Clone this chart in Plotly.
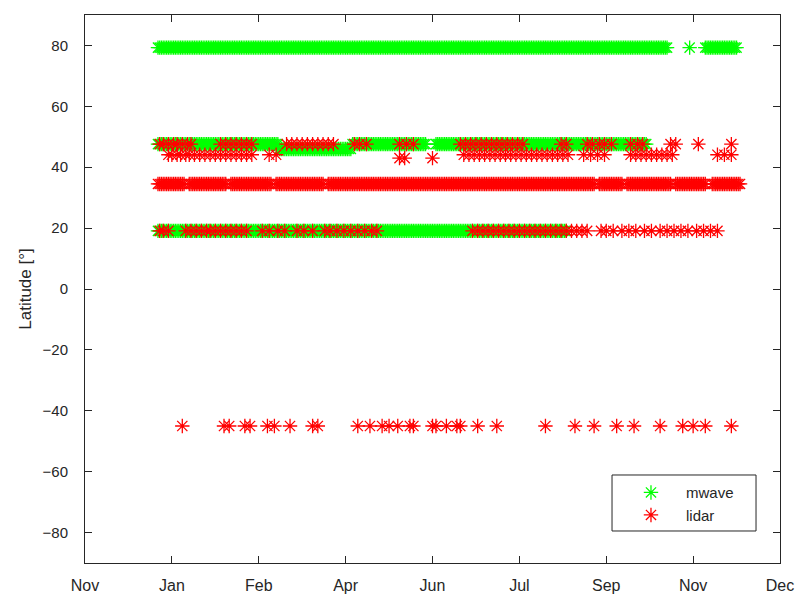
import pandas as pd
import plotly.graph_objects as go

# Observation year; days below are day-of-year in 2016
BASE = pd.Timestamp("2016-01-01")

# Axis window and labels for the date ticks (one tick every 50 days)
AXIS_START = pd.Timestamp("2015-11-20")
TICK_STEP_DAYS = 50
tick_labels = ["Nov", "Jan", "Feb", "Apr", "Jun", "Jul", "Sep", "Nov", "Dec"]
lat_ticks = [-80, -60, -40, -20, 0, 20, 40, 60, 80]

# Station latitudes (deg)
LAT_ARCTIC = 79.3
LAT_MID_N = 47.6
LAT_MID_N2 = 46.0
LAT_MID_S = 44.1
LAT_MID_S2 = 43.0
LAT_SUBTROP = 34.5
LAT_TROP = 19.1
LAT_SOUTH = -45.0

# Microwave radiometers: continuous daily records, (first_day, last_day)
mwave_arctic_runs = [(1, 294), (307, 307), (316, 334)]
mwave_mid_runs = [(1, 70), (113, 155), (161, 282)]
mwave_mid2_runs = [(71, 112)]
mwave_trop_runs = [(1, 236)]

# Lidars
lidar_subtrop_runs = [(1, 16), (19, 40), (43, 66), (69, 96), (99, 252),
                      (255, 268), (271, 296), (299, 316), (320, 336)]
lidar_mid_days = [2, 4, 7, 10, 12, 15, 18, 20,
                  37, 40, 43, 46, 49, 52, 55,
                  75, 78, 81, 84, 87, 90, 93, 96, 99, 102,
                  114, 117, 121, 140, 144, 148,
                  175, 178, 181, 184, 187, 190, 193, 196, 199, 202, 205, 208, 211,
                  233, 236, 248, 251, 255, 258, 262,
                  273, 277, 280, 296, 299, 312, 331]
lidar_mid_s_days = [7, 9, 12, 14, 17, 19, 22, 25, 28, 31, 34, 37, 40, 43, 46, 49, 52, 55,
                    65, 69,
                    177, 180, 183, 186, 189, 192, 195, 198, 201, 204, 207, 210, 213,
                    216, 219, 222, 225, 228, 231, 234, 237,
                    246, 250, 254, 258,
                    273, 276, 279, 282, 285, 288, 291, 294, 297,
                    323, 327, 331]
lidar_mid_s2_days = [140, 143, 159]
lidar_trop_days = [2, 4, 7,
                   17, 20, 23, 26, 29, 31, 34, 37, 40, 43, 46, 49, 52,
                   61, 65, 70, 74, 81, 85, 90,
                   97, 100, 104, 108, 112, 116, 120, 124, 127,
                   182, 185, 188, 191, 194, 197, 200, 203, 206, 209, 212, 215, 218,
                   221, 224, 227, 230, 233, 236, 239, 242, 245, 248,
                   256, 259, 263, 268, 272, 276, 281, 285, 290, 294, 298, 302, 306,
                   311, 315, 319, 323]
lidar_south_days = [15, 39, 42, 51, 54, 64, 68, 77, 90, 93, 116, 123, 130, 134, 139,
                    146, 148, 159, 161, 167, 173, 175, 185, 196, 224, 241, 252, 265,
                    275, 290, 303, 309, 316, 331]


def runs_to_days(runs):
    days = []
    for first, last in runs:
        days.extend(range(first, last + 1))
    return days


def series(groups):
    xs, ys = [], []
    for days, lat in groups:
        xs.extend(BASE + pd.Timedelta(days=d - 1) for d in days)
        ys.extend([lat] * len(days))
    return xs, ys


mw_x, mw_y = series([
    (runs_to_days(mwave_arctic_runs), LAT_ARCTIC),
    (runs_to_days(mwave_mid_runs), LAT_MID_N),
    (runs_to_days(mwave_mid2_runs), LAT_MID_N2),
    (runs_to_days(mwave_trop_runs), LAT_TROP),
])
li_x, li_y = series([
    (lidar_mid_days, LAT_MID_N),
    (lidar_mid_s_days, LAT_MID_S),
    (lidar_mid_s2_days, LAT_MID_S2),
    (runs_to_days(lidar_subtrop_runs), LAT_SUBTROP),
    (lidar_trop_days, LAT_TROP),
    (lidar_south_days, LAT_SOUTH),
])

GREEN = "#00ff00"
RED = "#ff0000"
AX = "#262626"
FONT = "Liberation Sans, Arial, sans-serif"

fig = go.Figure()
fig.add_trace(go.Scatter(
    x=mw_x, y=mw_y, mode="markers", name="mwave",
    marker=dict(symbol="asterisk-open", size=12, color=GREEN,
                line=dict(color=GREEN, width=1.3)),
))
fig.add_trace(go.Scatter(
    x=li_x, y=li_y, mode="markers", name="lidar",
    marker=dict(symbol="asterisk-open", size=12, color=RED,
                line=dict(color=RED, width=1.3)),
))

tick_vals = [AXIS_START + pd.Timedelta(days=TICK_STEP_DAYS * k) for k in range(len(tick_labels))]

# Framed box behind the legend entries
fig.add_shape(
    type="rect", xref="paper", yref="paper",
    x0=0.7583, x1=0.9655, y0=0.0584, y1=0.1606,
    line=dict(color=AX, width=1), fillcolor="white", layer="above",
)

fig.update_layout(
    width=803, height=597,
    margin=dict(l=85, r=23, t=15, b=34),
    paper_bgcolor="white", plot_bgcolor="white",
    font=dict(family=FONT, color=AX, size=15),
    showlegend=True,
    legend=dict(
        x=0.764, y=0.058, xanchor="left", yanchor="bottom",
        bgcolor="rgba(0,0,0,0)", borderwidth=0,
        font=dict(family=FONT, size=15, color=AX),
        itemwidth=60, tracegroupgap=0,
    ),
)
fig.update_xaxes(
    type="date",
    range=[tick_vals[0], tick_vals[-1]],
    tickvals=tick_vals, ticktext=tick_labels,
    ticks="inside", ticklen=7, tickcolor=AX, tickwidth=1,
    showline=True, linecolor=AX, linewidth=1, mirror="ticks",
    showgrid=False, zeroline=False, automargin=False,
    tickfont=dict(family=FONT, size=16, color=AX),
    ticklabelstandoff=8,
)
fig.update_yaxes(
    range=[-90, 90],
    tickvals=lat_ticks,
    ticks="inside", ticklen=7, tickcolor=AX, tickwidth=1,
    showline=True, linecolor=AX, linewidth=1, mirror="ticks",
    showgrid=False, zeroline=False, automargin=False,
    tickfont=dict(family=FONT, size=15, color=AX),
    ticklabelstandoff=13,
    title=dict(text="Latitude [°]", font=dict(family=FONT, size=17, color=AX), standoff=6),
)

fig.write_html("out.html")
